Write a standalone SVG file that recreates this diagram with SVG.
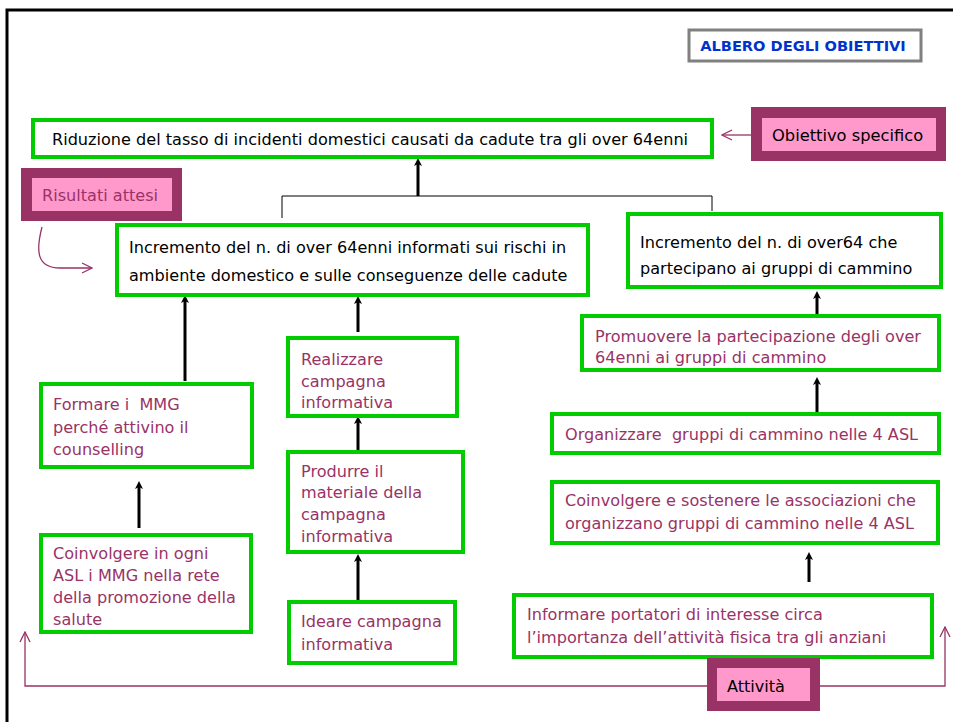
<svg xmlns="http://www.w3.org/2000/svg" width="953" height="722" viewBox="0 0 953 722">
<defs>
<marker id="ah" markerWidth="8" markerHeight="8" refX="4" refY="4" orient="auto" markerUnits="userSpaceOnUse" viewBox="0 0 8 8">
<path d="M0,0 L8,4 L0,8 L2,4 Z" fill="#000"/>
</marker>
<marker id="oh" markerWidth="12" markerHeight="12" refX="11" refY="6" orient="auto" markerUnits="userSpaceOnUse" viewBox="0 0 12 12">
<path d="M1,1 L11,6 L1,11" fill="none" stroke="#993366" stroke-width="1.3"/>
</marker>
<style>
.g{fill:#fff;stroke:#00cc00;stroke-width:4}
.t{font-family:"DejaVu Sans",sans-serif;font-size:16.1px}
.k{fill:#000}
.m{fill:#993366}
.arr{stroke:#000;stroke-width:3;fill:none;marker-end:url(#ah)}
.thin{stroke:#000;stroke-width:1;fill:none}
.pl{stroke:#993366;stroke-width:1.3;fill:none}
.outer{fill:#993366}
.inner{fill:#ff99cc}
</style>
</defs>
<rect width="953" height="722" fill="#fff"/>
<path d="M7,722 V10 H953" fill="none" stroke="#000" stroke-width="3"/>

<g id="title">
<rect x="689" y="30" width="232" height="31" fill="#fff" stroke="#808080" stroke-width="3"/>
<text x="803" y="51" text-anchor="middle" font-family="DejaVu Sans, sans-serif" font-size="14.6" font-weight="bold" fill="#0033cc">ALBERO DEGLI OBIETTIVI</text>
</g>

<g id="connectors">
<path class="thin" d="M282,218 V196 H712 V211"/>
<line class="arr" x1="418" y1="196" x2="418" y2="162"/>
<line class="arr" x1="185" y1="381" x2="185" y2="299"/>
<line class="arr" x1="139" y1="528" x2="139" y2="485"/>
<line class="arr" x1="358" y1="332" x2="358" y2="300"/>
<line class="arr" x1="358" y1="452" x2="358" y2="420"/>
<line class="arr" x1="358" y1="602" x2="358" y2="558"/>
<line class="arr" x1="817" y1="330" x2="817" y2="295"/>
<line class="arr" x1="817" y1="415" x2="817" y2="381"/>
<line class="arr" x1="809" y1="582" x2="809" y2="556"/>
<line class="pl" x1="751" y1="135" x2="722" y2="135" marker-end="url(#oh)"/>
<path class="pl" d="M42,227 C36,250 36,268 60,268 H92" marker-end="url(#oh)"/>
<path class="pl" d="M707,686 H25 V632" marker-end="url(#oh)"/>
<path class="pl" d="M820,686 H945 V627" marker-end="url(#oh)"/>
</g>

<g id="obiettivo">
<rect class="g" x="33" y="120" width="679" height="37"/>
<text class="t k" x="52" y="145">Riduzione del tasso di incidenti domestici causati da cadute tra gli over 64enni</text>
</g>

<g id="obiettivo-specifico">
<rect class="outer" x="751" y="107" width="195" height="54"/>
<rect class="inner" x="762" y="118" width="174" height="33"/>
<text class="t k" x="772" y="141" style="font-size:16.3px">Obiettivo specifico</text>
</g>

<g id="risultati-attesi">
<rect class="outer" x="21" y="168" width="161" height="53"/>
<rect class="inner" x="32" y="178" width="140" height="33"/>
<text class="t m" x="42" y="201">Risultati attesi</text>
</g>

<g id="risultato1">
<rect class="g" x="117" y="225" width="471" height="70"/>
<text class="t k" x="129" y="253">Incremento del n. di over 64enni informati sui rischi in</text>
<text class="t k" x="129" y="281">ambiente domestico e sulle conseguenze delle cadute</text>
</g>

<g id="risultato2">
<rect class="g" x="628" y="214" width="313" height="73"/>
<text class="t k" x="640" y="248">Incremento del n. di over64 che</text>
<text class="t k" x="640" y="274">partecipano ai gruppi di cammino</text>
</g>

<g id="formare">
<rect class="g" x="41" y="384" width="211" height="83"/>
<text class="t m" x="53" y="410" xml:space="preserve">Formare i  MMG</text>
<text class="t m" x="53" y="433">perché attivino il</text>
<text class="t m" x="53" y="455">counselling</text>
</g>

<g id="coinvolgere-mmg">
<rect class="g" x="41" y="535" width="210" height="97"/>
<text class="t m" x="53" y="559">Coinvolgere in ogni</text>
<text class="t m" x="53" y="581">ASL i MMG nella rete</text>
<text class="t m" x="53" y="603">della promozione della</text>
<text class="t m" x="53" y="625">salute</text>
</g>

<g id="realizzare">
<rect class="g" x="288" y="338" width="169" height="78"/>
<text class="t m" x="301" y="365">Realizzare</text>
<text class="t m" x="301" y="387">campagna</text>
<text class="t m" x="301" y="408">informativa</text>
</g>

<g id="produrre">
<rect class="g" x="288" y="452" width="175" height="100"/>
<text class="t m" x="301" y="477">Produrre il</text>
<text class="t m" x="301" y="498">materiale della</text>
<text class="t m" x="301" y="520">campagna</text>
<text class="t m" x="301" y="542">informativa</text>
</g>

<g id="ideare">
<rect class="g" x="289" y="602" width="166" height="61"/>
<text class="t m" x="301" y="627">Ideare campagna</text>
<text class="t m" x="301" y="650">informativa</text>
</g>

<g id="promuovere">
<rect class="g" x="582" y="316" width="357" height="54"/>
<text class="t m" x="595" y="342">Promuovere la partecipazione degli over</text>
<text class="t m" x="595" y="363">64enni ai gruppi di cammino</text>
</g>

<g id="organizzare">
<rect class="g" x="552" y="414" width="387" height="39"/>
<text class="t m" x="565" y="440" xml:space="preserve">Organizzare  gruppi di cammino nelle 4 ASL</text>
</g>

<g id="coinvolgere-associazioni">
<rect class="g" x="552" y="482" width="386" height="61"/>
<text class="t m" x="565" y="506">Coinvolgere e sostenere le associazioni che</text>
<text class="t m" x="565" y="529">organizzano gruppi di cammino nelle 4 ASL</text>
</g>

<g id="informare">
<rect class="g" x="514" y="595" width="418" height="62"/>
<text class="t m" x="527" y="620">Informare portatori di interesse circa</text>
<text class="t m" x="527" y="643">l’importanza dell’attività fisica tra gli anziani</text>
</g>

<g id="attivita">
<rect class="outer" x="707" y="658" width="113" height="53"/>
<rect class="inner" x="717" y="668" width="93" height="33"/>
<text class="t k" x="727" y="692">Attività</text>
</g>
</svg>
